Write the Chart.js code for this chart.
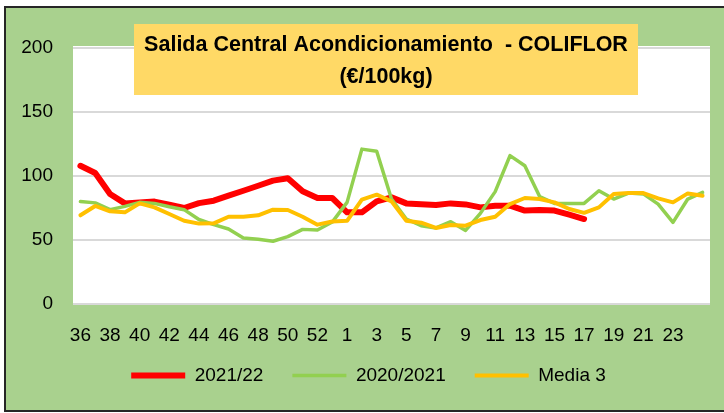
<!DOCTYPE html>
<html>
<head>
<meta charset="utf-8">
<script src="https://cdn.jsdelivr.net/npm/chart.js@4.4.1/dist/chart.umd.min.js"></script>
<style>
  html, body { margin: 0; padding: 0; background: #ffffff; }
  canvas { display: block; }
</style>
</head>
<body>
<canvas id="coliflor-chart" width="724" height="413"></canvas>
<script>
// semanas 36..53 y 1..25
var weeks = ['36','37','38','39','40','41','42','43','44','45','46','47','48','49','50','51','52','53',
             '1','2','3','4','5','6','7','8','9','10','11','12','13','14','15','16','17','18','19','20','21','22','23','24','25'];

var season2122 = [108, 102.3, 86, 78.6, 79.4, 80, 77.6, 75, 78.8, 80.7, 84.6, 88.5, 92.4, 96.4, 98.2, 88, 82.8, 82.8,
                  71.6, 71.6, 80.2, 83.3, 78.6, 78, 77.3, 78.6, 77.8, 75.5, 76.8, 76.8, 73, 73.4, 73, 69.8, 66.4,
                  null, null, null, null, null, null, null, null];

var season2021 = [80, 79, 73.7, 76.3, 79.4, 78.6, 76, 73.7, 66, 62, 58.6, 51.6, 50.5, 49, 52.6, 58.3, 57.8, 64,
                  79.4, 121, 119.3, 82, 66.4, 61.2, 59.4, 64.3, 57.5, 70.8, 87.8, 115.9, 108, 83.9, 78.6, 78.6, 78.6,
                  88.5, 82, 86.7, 86, 78, 63.8, 82, 87.2];

var media3 = [69.3, 76.6, 72.4, 71.6, 78.6, 75.5, 70.3, 65, 62.8, 63, 68.2, 68.2, 69.3, 73.7, 73.4, 68.2, 62, 64.5,
              65, 81.5, 85.4, 80.2, 65, 63.5, 59.4, 61.7, 61.2, 65.6, 68.2, 78.1, 82.8, 82, 79.4, 74.2, 71.2,
              75.5, 86, 86.7, 86.7, 82.5, 79.4, 86.4, 84.6];

var seriesNames = ['2021/22', '2020/2021', 'Media 3'];
var titleLines = ['Salida Central Acondicionamiento  - COLIFLOR', '(€/100kg)'];
var yTicks = [0, 50, 100, 150, 200];

var FONT = "'Liberation Sans', Arial, sans-serif";

function lineSet(label, data, color, width, order) {
    return {
        label: label,
        data: data,
        borderColor: color,
        backgroundColor: color,
        borderWidth: width,
        borderCapStyle: 'round',
        borderJoinStyle: 'round',
        pointRadius: 0,
        pointHoverRadius: 0,
        pointStyle: 'line',
        pointBorderColor: color,
        pointBorderWidth: width,
        tension: 0,
        spanGaps: false,
        order: order
    };
}

var panelPlugin = {
    id: 'panel',
    afterLayout: function(chart) {
        // nudge the legend to where the original sits
        var lg = chart.legend;
        lg.left += 6; lg.right += 6;
        lg.top -= 12; lg.bottom -= 12;
    },
    beforeDraw: function(chart) {
        var ctx = chart.ctx, a = chart.chartArea;
        ctx.save();
        ctx.fillStyle = '#ffffff';
        ctx.fillRect(0, 0, chart.width, chart.height);
        ctx.fillStyle = '#a9d18e';
        ctx.fillRect(5, 7, chart.width, 404);
        ctx.strokeStyle = '#262626';
        ctx.lineWidth = 2;
        ctx.strokeRect(5, 7, chart.width + 10, 404);
        ctx.fillStyle = '#ffffff';
        ctx.fillRect(a.left, a.top - 2, a.right - a.left, a.bottom - a.top + 3);
        ctx.restore();
    },
    afterDraw: function(chart) {
        var ctx = chart.ctx;
        ctx.save();
        ctx.fillStyle = '#ffd966';
        ctx.fillRect(134, 24, 504, 71);
        ctx.fillStyle = '#000000';
        ctx.font = 'bold 21.5px ' + FONT;
        ctx.textAlign = 'center';
        ctx.textBaseline = 'middle';
        ctx.fillText(titleLines[0], 386, 45);
        ctx.fillText(titleLines[1], 386, 77);
        ctx.restore();
    }
};

window.onload = function() {
    var ctx = document.getElementById('coliflor-chart');
    new Chart(ctx, {
        type: 'line',
        data: {
            labels: weeks,
            datasets: [
                lineSet(seriesNames[0], season2122, '#ff0000', 6, 3),
                lineSet(seriesNames[1], season2021, '#92d050', 3.5, 2),
                lineSet(seriesNames[2], media3, '#ffc000', 4, 1)
            ]
        },
        options: {
            responsive: false,
            animation: false,
            devicePixelRatio: 1,
            layout: { padding: { left: 15, right: 14, top: 48, bottom: 6 } },
            plugins: {
                title: { display: false },
                tooltip: { enabled: false },
                legend: {
                    position: 'bottom',
                    labels: {
                        usePointStyle: true,
                        pointStyleWidth: 54,
                        padding: 29,
                        color: '#000000',
                        font: { family: FONT, size: 19 },
                        sort: function(a, b) { return a.datasetIndex - b.datasetIndex; }
                    }
                }
            },
            scales: {
                x: {
                    offset: true,
                    grid: { display: false, drawTicks: false },
                    border: { display: false },
                    ticks: {
                        autoSkip: false,
                        maxRotation: 0,
                        padding: 20,
                        color: '#000000',
                        font: { family: FONT, size: 19 },
                        callback: function(v, i) {
                            return (i % 2 === 0 && i < weeks.length - 1) ? weeks[i] : '';
                        }
                    },
                    afterFit: function(s) { s.height = 45; }
                },
                y: {
                    min: yTicks[0],
                    max: yTicks[yTicks.length - 1],
                    grid: { color: '#d9d9d9', lineWidth: 2, drawTicks: false },
                    border: { display: false },
                    afterBuildTicks: function(s) {
                        s.ticks = yTicks.map(function(v) { return { value: v }; });
                    },
                    ticks: {
                        padding: 20,
                        color: '#000000',
                        font: { family: FONT, size: 19 }
                    },
                    afterFit: function(s) { s.width = 58; }
                }
            }
        },
        plugins: [panelPlugin]
    });
};
</script>
</body>
</html>
